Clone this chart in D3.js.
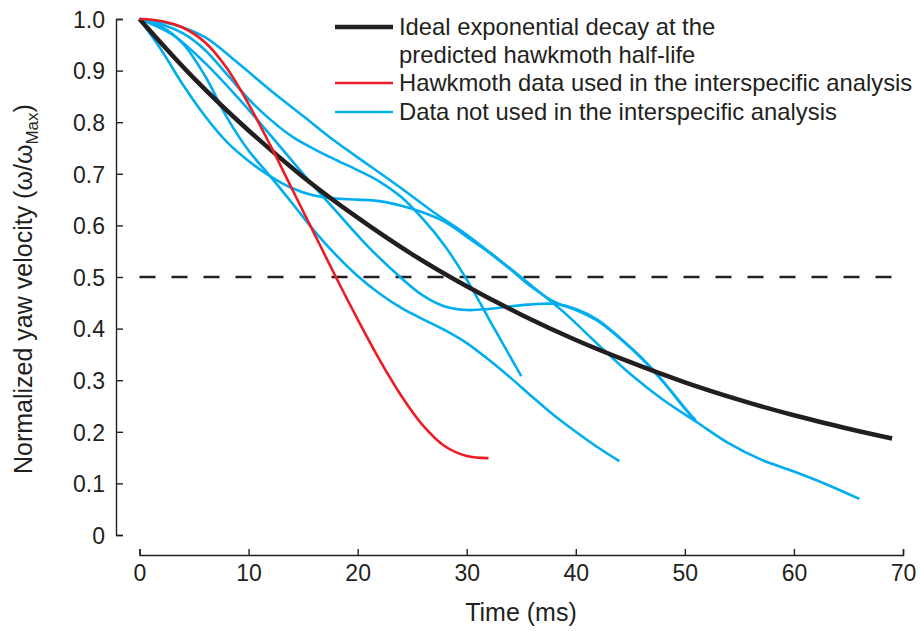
<!DOCTYPE html>
<html lang="en"><head>
<meta charset="utf-8">
<title>Yaw velocity decay</title>
<script src="https://cdnjs.cloudflare.com/ajax/libs/d3/7.8.5/d3.min.js"></script>
<style>
body { margin: 0; background: #fff; }
text { font-family: "Liberation Sans", Arial, sans-serif; fill: #231f20; }
</style>
</head>
<body>
<svg id="chart" width="920" height="631"></svg>
<script>
// ---- data (time in ms, normalized yaw velocity) ----
var idealT = [0, 5, 10, 15, 20, 25, 30, 35, 40, 45, 50, 55, 60, 65, 69];
var idealV = [1.0, 0.885, 0.784, 0.694, 0.615, 0.544, 0.482, 0.427, 0.378, 0.335, 0.296, 0.262, 0.232, 0.206, 0.187];

var hawkT = [0, 2, 4, 6, 8, 10, 12, 14, 16, 18, 20, 22, 24, 26, 28, 30, 32];
var hawkV = [1.0, 0.996, 0.983, 0.955, 0.905, 0.835, 0.755, 0.67, 0.585, 0.5, 0.418, 0.34, 0.27, 0.212, 0.172, 0.153, 0.149];

var blue1T = [0, 3, 6, 9, 12, 15, 18, 21, 24, 27, 30, 33, 36, 39, 42, 45, 48, 51, 54, 57, 60, 63, 66];
var blue1V = [1.0, 0.99, 0.965, 0.915, 0.862, 0.812, 0.762, 0.717, 0.672, 0.625, 0.582, 0.533, 0.482, 0.43, 0.37, 0.312, 0.262, 0.22, 0.178, 0.146, 0.123, 0.098, 0.07];

var blue2T = [0, 2, 4, 6, 8, 10, 12, 14, 16, 18, 20, 22, 24, 26, 28, 30, 32, 34, 36, 38, 40, 42, 44, 46, 48, 50, 51];
var blue2V = [1.0, 0.94, 0.872, 0.812, 0.762, 0.725, 0.695, 0.672, 0.658, 0.652, 0.65, 0.647, 0.638, 0.625, 0.607, 0.578, 0.548, 0.515, 0.48, 0.452, 0.436, 0.415, 0.382, 0.343, 0.297, 0.245, 0.222];

var blue3T = [0, 3, 6, 9, 12, 15, 18, 21, 24, 26, 28, 30, 32, 34, 36, 38, 40, 42, 44, 46, 48, 50, 51];
var blue3V = [1.0, 0.97, 0.915, 0.848, 0.775, 0.7, 0.628, 0.558, 0.498, 0.464, 0.443, 0.436, 0.438, 0.443, 0.447, 0.448, 0.438, 0.417, 0.383, 0.344, 0.298, 0.246, 0.22];

var blue4T = [0, 2, 4, 6, 8, 10, 12, 14, 16, 18, 20, 22, 24, 26, 28, 30, 32, 34, 35];
var blue4V = [1.0, 0.99, 0.972, 0.94, 0.893, 0.845, 0.805, 0.772, 0.748, 0.727, 0.707, 0.685, 0.655, 0.612, 0.56, 0.495, 0.42, 0.345, 0.308];

var blue5T = [0, 2, 4, 6, 8, 10, 12, 14, 16, 18, 20, 22, 24, 26, 28, 30, 32, 34, 36, 38, 40, 42, 44];
var blue5V = [1.0, 0.985, 0.952, 0.89, 0.81, 0.745, 0.695, 0.643, 0.59, 0.543, 0.502, 0.468, 0.44, 0.418, 0.397, 0.372, 0.34, 0.305, 0.268, 0.232, 0.2, 0.17, 0.143];

var halfLine = 0.5;

var xTicks = [0, 10, 20, 30, 40, 50, 60, 70];
var yTicks = [0, 0.1, 0.2, 0.3, 0.4, 0.5, 0.6, 0.7, 0.8, 0.9, 1.0];
var yTickLabels = ["0", "0.1", "0.2", "0.3", "0.4", "0.5", "0.6", "0.7", "0.8", "0.9", "1.0"];

var legendLabels = ["Ideal exponential decay at the", "predicted hawkmoth half-life",
                    "Hawkmoth data used in the interspecific analysis",
                    "Data not used in the interspecific analysis"];

var ink = "#231f20", red = "#ed1c24", blue = "#00aeef";

function zipSeries(t, v) { return t.map(function(d, i) { return [d, v[i]]; }); }
var blueSeries = [zipSeries(blue1T, blue1V), zipSeries(blue2T, blue2V), zipSeries(blue3T, blue3V),
                  zipSeries(blue4T, blue4V), zipSeries(blue5T, blue5V)];

var svg = d3.select("#chart");

var x = d3.scaleLinear().domain([0, 70]).range([139.5, 903]);
var y = d3.scaleLinear().domain([0, 1]).range([535, 19]);

// y axis: offset to the left, ticks pointing inward
var yAxis = svg.append("g")
    .attr("transform", "translate(116,0)")
    .call(d3.axisRight(y).tickValues(yTicks).tickSize(7).tickSizeOuter(7)
        .tickFormat(function(d, i) { return yTickLabels[i]; }));
yAxis.selectAll("path, line").attr("stroke", ink).attr("stroke-width", 1.4);
yAxis.selectAll("text")
    .attr("x", -11).attr("dy", "0.36em")
    .attr("text-anchor", "end")
    .style("font-size", "23px")
    .attr("fill", ink);

// x axis: below the plot, ticks pointing up
var xAxis = svg.append("g")
    .attr("transform", "translate(0,555)")
    .call(d3.axisTop(x).tickValues(xTicks).tickSize(6).tickSizeOuter(6));
xAxis.selectAll("path, line").attr("stroke", ink).attr("stroke-width", 1.4);
xAxis.selectAll("text")
    .attr("y", 26).attr("dy", 0)
    .style("font-size", "23px")
    .attr("fill", ink);
svg.selectAll(".domain").attr("fill", "none");

// axis titles
svg.append("text")
    .attr("x", 521).attr("y", 621)
    .attr("text-anchor", "middle")
    .style("font-size", "25px")
    .text("Time (ms)");

var yt = svg.append("text")
    .attr("transform", "translate(32,474) rotate(-90)")
    .style("font-size", "25px");
yt.append("tspan").text("Normalized yaw velocity (\u03c9/\u03c9");
yt.append("tspan").attr("dy", 6).style("font-size", "17px").text("Max");
yt.append("tspan").attr("dy", -6).text(")");

// half-life reference line
svg.append("line")
    .attr("x1", x(0)).attr("x2", x(70))
    .attr("y1", y(halfLine)).attr("y2", y(halfLine))
    .attr("stroke", ink).attr("stroke-width", 2.6)
    .attr("stroke-dasharray", "16,16");

var line = d3.line()
    .x(function(d) { return x(d[0]); })
    .y(function(d) { return y(d[1]); })
    .curve(d3.curveCatmullRom.alpha(0.5));

svg.append("g").selectAll("path")
    .data(blueSeries)
    .enter().append("path")
    .attr("d", line)
    .attr("fill", "none")
    .attr("stroke", blue)
    .attr("stroke-width", 2.6);

svg.append("path")
    .attr("d", line(zipSeries(idealT, idealV)))
    .attr("fill", "none")
    .attr("stroke", ink)
    .attr("stroke-width", 4.5);

svg.append("path")
    .attr("d", line(zipSeries(hawkT, hawkV)))
    .attr("fill", "none")
    .attr("stroke", red)
    .attr("stroke-width", 2.6);

// legend
var legendRows = [
    {y: 27, color: ink, width: 4.5, label: legendLabels[0]},
    {y: 55, color: null, width: 0, label: legendLabels[1]},
    {y: 83, color: red, width: 2.6, label: legendLabels[2]},
    {y: 112, color: blue, width: 2.6, label: legendLabels[3]}
];
var legend = svg.append("g");
legendRows.forEach(function(r) {
    if (r.color) {
        legend.append("line")
            .attr("x1", 335).attr("x2", 393)
            .attr("y1", r.y).attr("y2", r.y)
            .attr("stroke", r.color).attr("stroke-width", r.width);
    }
    legend.append("text")
        .attr("x", 399).attr("y", r.y + 8)
        .style("font-size", "23.8px")
        .text(r.label);
});
</script>
</body></html>
